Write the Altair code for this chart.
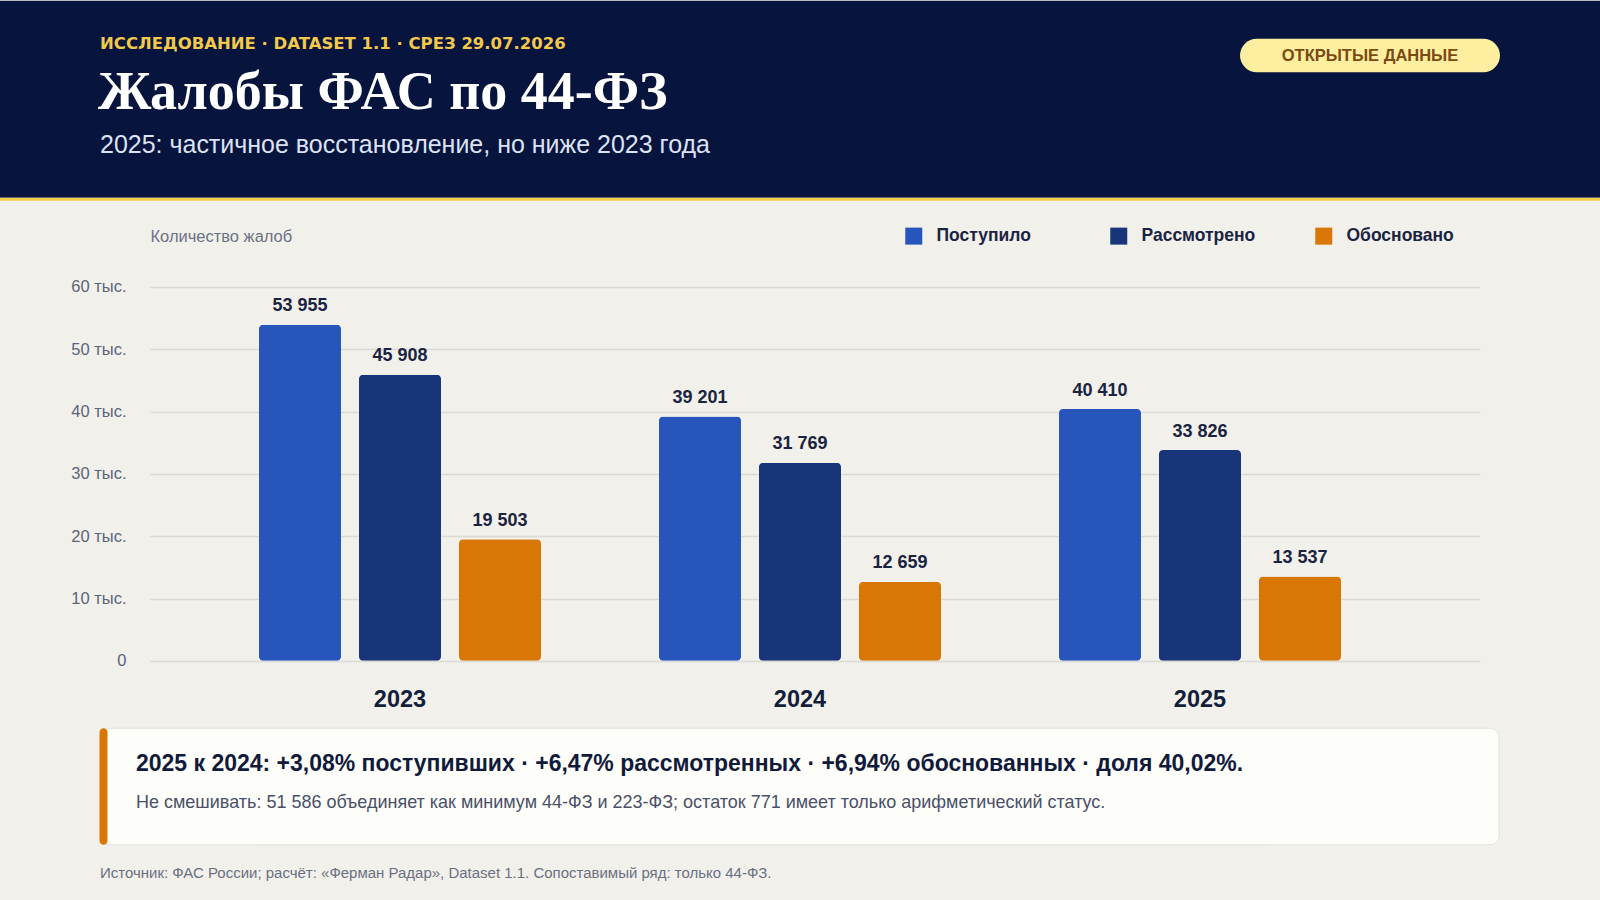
import altair as alt
import pandas as pd

# ---- data ----
years = ["2023", "2024", "2025"]
series = ["Поступило", "Рассмотрено", "Обосновано"]
received = [53955, 39201, 40410]
reviewed = [45908, 31769, 33826]
justified = [19503, 12659, 13537]
colors = ["#2755bb", "#183579", "#d97706"]
y_ticks = [0, 10000, 20000, 30000, 40000, 50000, 60000]

kicker = "ИССЛЕДОВАНИЕ · DATASET 1.1 · СРЕЗ 29.07.2026"
title = "Жалобы ФАС по 44-ФЗ"
subtitle = "2025: частичное восстановление, но ниже 2023 года"
badge = "ОТКРЫТЫЕ ДАННЫЕ"
y_title = "Количество жалоб"
note_main = "2025 к 2024: +3,08% поступивших · +6,47% рассмотренных · +6,94% обоснованных · доля 40,02%."
note_sub = "Не смешивать: 51 586 объединяет как минимум 44-ФЗ и 223-ФЗ; остаток 771 имеет только арифметический статус."
source = "Источник: ФАС России; расчёт: «Ферман Радар», Dataset 1.1. Сопоставимый ряд: только 44-ФЗ."

rows = []
for i, yr in enumerate(years):
    for s, vals in zip(series, [received, reviewed, justified]):
        rows.append({"year": yr, "series": s, "value": vals[i],
                     "label": f"{vals[i]:,}".replace(",", " ")})
df = pd.DataFrame(rows)

# ---- layout (page px -> plot-relative) ----
OX, OY = 150, 286.2
W, H = 1330, 373.8
SANS = "Liberation Sans"
INK = "#1a2440"
BG = "#f1f0eb"


def rx(x):
    return x - OX


def ry(y):
    return y - OY


one = pd.DataFrame({"k": [0]})


def rect(x1, y1, x2, y2, **kw):
    return alt.Chart(one).mark_rect(**kw).encode(
        x=alt.value(rx(x1)), x2=alt.value(rx(x2)),
        y=alt.value(ry(y1)), y2=alt.value(ry(y2)))


def txt(s, x, y, **kw):
    return alt.Chart(one).mark_text(text=s, baseline="alphabetic", **kw).encode(
        x=alt.value(rx(x)), y=alt.value(ry(y)))


page_bg = rect(0, 0, 1600, 900, color=BG, opacity=0)
header = rect(0, 0, 1600, 197, color="#07143d")
gold = rect(0, 197, 1600, 200, color="#f4cd4a")
pill = rect(1240, 38, 1500, 71.5, color="#fdeea0", cornerRadius=17)
note_box = rect(100, 727.5, 1499, 844, color="#fdfdfa", stroke="#e2e0da",
                strokeWidth=1, cornerRadius=9)
note_bar = rect(99.5, 727.5, 107.5, 844, color="#d97706", cornerRadius=4)

t_kicker = txt(kicker, 100, 48, align="left", font="DejaVu Sans", fontSize=16.5,
               fontWeight="bold", color="#f2c94c")
t_title = txt(title, 98, 108.5, align="left", font="Liberation Serif", fontSize=54,
              fontWeight="bold", color="#ffffff")
t_sub = txt(subtitle, 100, 152.5, align="left", font=SANS, fontSize=25,
            color="#dde3f4")
t_badge = txt(badge, 1370, 60.5, align="center", font=SANS, fontSize=16.5,
              fontWeight="bold", color="#7a4a12")
t_note1 = txt(note_main, 136, 770, align="left", font=SANS, fontSize=23,
              fontWeight="bold", color="#111a3a")
t_note2 = txt(note_sub, 136, 807, align="left", font=SANS, fontSize=18,
              color="#4a5068")
t_src = txt(source, 100, 877.5, align="left", font=SANS, fontSize=15,
            color="#6b7080")

x_enc = alt.X("year:N", sort=years,
              scale=alt.Scale(paddingInner=0, paddingOuter=0.1625, align=0.3846),
              axis=alt.Axis(title=None, labelAngle=0, labelFont=SANS,
                            labelFontSize=23.5, labelFontWeight="bold",
                            labelColor="#141d3a", labelPadding=27,
                            domain=False, ticks=False, grid=False))
xo_enc = alt.XOffset("series:N", sort=series,
                     scale=alt.Scale(paddingInner=0.18, paddingOuter=0.59))
y_enc = alt.Y("value:Q",
              scale=alt.Scale(domain=[0, 60000], nice=False),
              axis=alt.Axis(values=y_ticks,
                            labelExpr="datum.value == 0 ? '0' : (datum.value / 1000) + ' тыс.'",
                            labelFont=SANS, labelFontSize=16.5, labelColor="#5c6478",
                            labelPadding=24, domain=False, ticks=False,
                            grid=True, gridColor="#dcdad4", gridWidth=1.3,
                            title=y_title, titleAngle=0, titleX=0, titleY=-50,
                            titleAlign="left", titleBaseline="middle",
                            titleFont=SANS, titleFontSize=16.5,
                            titleFontWeight="normal", titleColor="#6b7285"))
c_enc = alt.Color("series:N", sort=series,
                  scale=alt.Scale(domain=series, range=colors),
                  legend=alt.Legend(title=None, orient="none", legendX=755,
                                    legendY=-60, direction="horizontal",
                                    symbolType="square", symbolSize=289,
                                    symbolStrokeWidth=0, symbolOpacity=1,
                                    labelFont=SANS, labelFontSize=17.5,
                                    labelFontWeight="bold", labelColor=INK,
                                    labelOffset=14, columnPadding=59,
                                    gridAlign="all", padding=0))

bars = alt.Chart(df).mark_bar(cornerRadius=4).encode(
    x=x_enc, xOffset=xo_enc, y=y_enc, color=c_enc)

labels = alt.Chart(df).mark_text(baseline="alphabetic", dy=-13.5, font=SANS,
                                 fontSize=18, fontWeight="bold", color=INK).encode(
    x=alt.X("year:N", sort=years), xOffset=alt.XOffset("series:N", sort=series),
    y="value:Q", text="label:N")

chart = alt.layer(
    page_bg, header, gold, pill, note_box, note_bar,
    t_kicker, t_title, t_sub, t_badge, t_note1, t_note2, t_src,
    bars, labels,
).properties(
    width=W, height=H, padding=0, background=BG
).configure_view(stroke=None)

chart.save("out.html", embed_options={"renderer": "svg", "actions": False})
